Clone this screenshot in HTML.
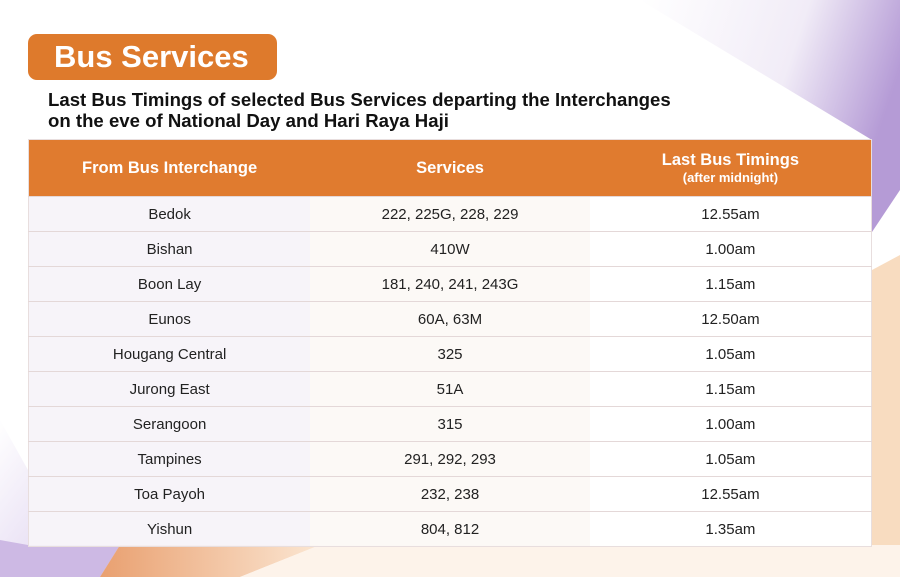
<!DOCTYPE html>
<html><head><meta charset="utf-8"><style>
body{margin:0;width:900px;height:577px;overflow:hidden;background:#fff;font-family:"Liberation Sans",sans-serif;position:relative}
svg.bg{position:absolute;left:0;top:0}
.badge{position:absolute;left:28px;top:34px;width:249px;height:46px;background:#de7a2c;border-radius:9px;color:#fff;font-weight:bold;font-size:31px;line-height:46px;padding-left:26px;box-sizing:border-box}
.sub{position:absolute;left:48px;top:89px;font-weight:bold;font-size:18.6px;line-height:21px;color:#111}
table{position:absolute;left:28px;top:139px;width:844px;border-collapse:collapse;font-size:15px;color:#222}
th{background:#e07b2f;color:#fff;height:56px;font-weight:bold;font-size:16.5px;padding:0;text-align:center}
th small{display:block;font-size:13px}
td{height:34px;text-align:center;border-top:1px solid #e4d8d8;padding:0}
tr td:nth-child(1){background:rgba(246,243,249,.92)}
tr td:nth-child(2){background:rgba(252,248,245,.92)}
tr td:nth-child(3){background:rgba(255,255,255,.95)}
table{border:1px solid #e8dede}
</style></head><body>
<svg class="bg" width="900" height="577">
<defs>
<linearGradient id="p" x1="0" y1="0" x2="1" y2="0.3"><stop offset="0" stop-color="#fff"/><stop offset="0.6" stop-color="#f1ecf7"/><stop offset="1" stop-color="#b59bd6"/></linearGradient>
<linearGradient id="o" x1="0" y1="0" x2="1" y2="0"><stop offset="0" stop-color="#e9a070"/><stop offset="1" stop-color="#fbe6d2"/></linearGradient>
<linearGradient id="q" x1="0" y1="0" x2="1" y2="1"><stop offset="0" stop-color="#fff"/><stop offset="1" stop-color="#d8c9ec"/></linearGradient>
</defs>
<polygon points="640,0 900,0 900,190 872,232 872,140" fill="url(#p)"/>
<polygon points="872,270 900,255 900,577 872,577" fill="#f8dcc0"/>
<polygon points="0,420 28,470 28,545 120,545 100,577 0,577" fill="url(#q)"/>
<polygon points="0,540 28,545 120,545 100,577 0,577" fill="#cdb9e4"/>
<polygon points="120,545 320,545 240,577 100,577" fill="url(#o)"/>
<polygon points="320,545 900,545 900,577 240,577" fill="#fdf3ea"/>
</svg>
<div class="badge">Bus Services</div>
<div class="sub">Last Bus Timings of selected Bus Services departing the Interchanges<br>on the eve of National Day and Hari Raya Haji</div>
<table>
<colgroup><col style="width:282px"><col style="width:280px"><col style="width:282px"></colgroup>
<tr><th>From Bus Interchange</th><th>Services</th><th>Last Bus Timings<small>(after midnight)</small></th></tr>
<tr><td>Bedok</td><td>222, 225G, 228, 229</td><td>12.55am</td></tr>
<tr><td>Bishan</td><td>410W</td><td>1.00am</td></tr>
<tr><td>Boon Lay</td><td>181, 240, 241, 243G</td><td>1.15am</td></tr>
<tr><td>Eunos</td><td>60A, 63M</td><td>12.50am</td></tr>
<tr><td>Hougang Central</td><td>325</td><td>1.05am</td></tr>
<tr><td>Jurong East</td><td>51A</td><td>1.15am</td></tr>
<tr><td>Serangoon</td><td>315</td><td>1.00am</td></tr>
<tr><td>Tampines</td><td>291, 292, 293</td><td>1.05am</td></tr>
<tr><td>Toa Payoh</td><td>232, 238</td><td>12.55am</td></tr>
<tr><td>Yishun</td><td>804, 812</td><td>1.35am</td></tr>
</table>
</body></html>
